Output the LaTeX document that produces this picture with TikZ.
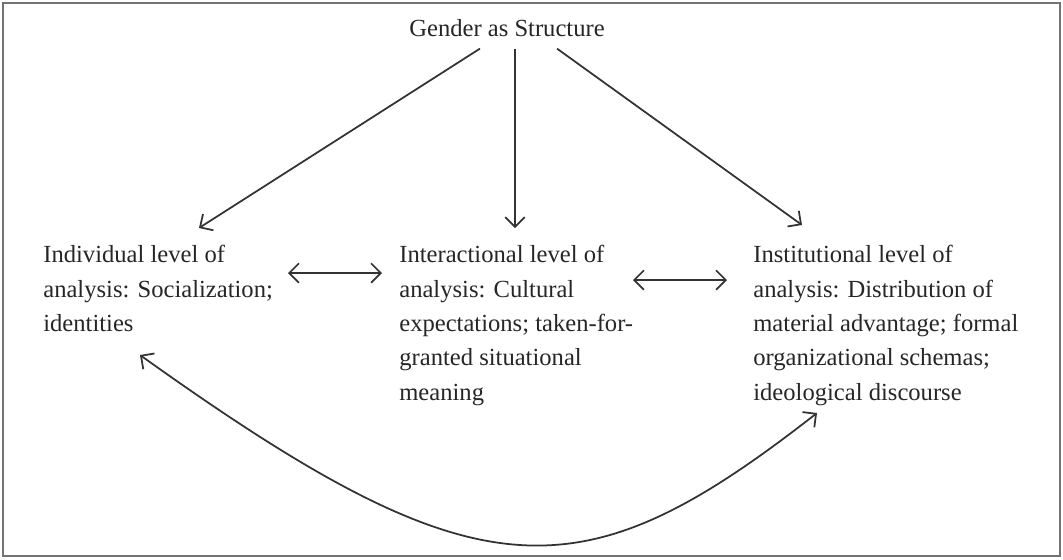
\documentclass[tikz,border=0pt]{standalone}
\usepackage{fontspec}
\setmainfont{Liberation Serif}
\usetikzlibrary{arrows.meta,calc}

\begin{document}
\begin{tikzpicture}[x=0.02cm,y=-0.02cm,
  level/.style={align=left,anchor=north west,inner sep=0pt,text=black!85,font=\fontsize{14}{19.6}\selectfont},
  arr/.style={-{Straight Barb[length=5.5pt,width=11pt]},line width=1pt,draw=black!80},
  twoarr/.style={{Straight Barb[length=5.5pt,width=11pt]}-{Straight Barb[length=5.5pt,width=11pt]},line width=1pt,draw=black!80}]
\useasboundingbox (0,0) rectangle (1063,559);
\draw[black!55,line width=1.4pt] (3,3) rectangle (1060,556);

% levels
\node[level,anchor=base] (title) at (507,36) {Gender as Structure};
\node[level] (ind) at (43,245) {Individual level of\\analysis: Socialization;\\identities};
\node[level] (inter) at (399,245) {Interactional level of\\analysis: Cultural\\expectations; taken-for-\\granted situational\\meaning};
\node[level] (inst) at (753,245) {Institutional level of\\analysis: Distribution of\\material advantage; formal\\organizational schemas;\\ideological discourse};

% from structure down to the levels
\draw[arr] ($(title.south)+(-27,12)$) -- ($(ind.north west)+(156,-17)$);
\draw[arr] ($(title.south)+(8,12)$) -- ($(inter.north west)+(116,-17)$);
\draw[arr] ($(title.south)+(50,12)$) -- ($(inst.north west)+(49,-20)$);

% between the levels
\draw[twoarr] ($(ind.north west)+(245,28)$) -- ($(inter.north west)+(-17,28)$);
\draw[twoarr] ($(inter.north west)+(234,35)$) -- ($(inst.north west)+(-26,35)$);
\draw[twoarr] ($(ind.north west)+(97,110)$) .. controls (480,598) and (580,598) .. ($(inst.north west)+(64,168)$);
\end{tikzpicture}
\end{document}
